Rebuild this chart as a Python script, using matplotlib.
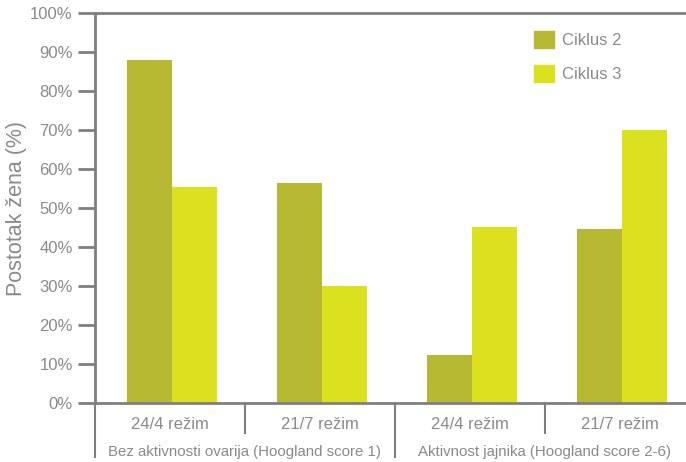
import matplotlib
matplotlib.use('Agg')
import matplotlib.pyplot as plt
import matplotlib.transforms as mtransforms
import matplotlib.patches as mpatches

plt.rcParams['font.family'] = ['Liberation Sans', 'DejaVu Sans']

# podaci
rezimi = ['24/4 režim', '21/7 režim', '24/4 režim', '21/7 režim']
grupe = ['Bez aktivnosti ovarija (Hoogland score 1)', 'Aktivnost jajnika (Hoogland score 2-6)']
ciklus2 = [88, 56.4, 12.3, 44.6]
ciklus3 = [55.4, 30, 45.1, 70]
y_ticks = [0, 10, 20, 30, 40, 50, 60, 70, 80, 90, 100]

siva = '#7f7f7f'
tekst = '#8a8a8a'
boja2 = '#b8b932'
boja3 = '#dce11f'

W, H = 686, 462
fig = plt.figure(figsize=(W / 100, H / 100), dpi=100)
ax = fig.add_axes([95 / W, 59 / H, 600 / W, 390 / H])

x = list(range(len(rezimi)))
w = 0.3
ax.bar([i + 0.015 - w / 2 for i in x], ciklus2, width=w, color=boja2, label='Ciklus 2')
ax.bar([i + 0.015 + w / 2 for i in x], ciklus3, width=w, color=boja3, label='Ciklus 3')

ax.set_xlim(-0.5, len(rezimi) - 0.5)
ax.set_ylim(0, 100)
ax.set_yticks(y_ticks, [f'{t}%' for t in y_ticks])
ax.set_xticks(x, rezimi)
ax.tick_params(axis='y', length=12, width=2, color=siva, labelcolor=tekst, labelsize=12, pad=4)
ax.tick_params(axis='x', length=0, labelcolor=tekst, labelsize=12, pad=10)

ax.spines['right'].set_visible(False)
for s in ['left', 'top', 'bottom']:
    ax.spines[s].set_color(siva)
    ax.spines[s].set_linewidth(2)

ax.set_ylabel('Postotak žena (%)', color=tekst, fontsize=15.5, labelpad=2)

# razdjelnici ispod osi
trans = mtransforms.blended_transform_factory(ax.transData, ax.transAxes)
for i in range(len(rezimi) + 1):
    xp = i - 0.5
    dug = (i % 2 == 0)
    dno = -54 / 390 if dug else -30 / 390
    ax.plot([xp, xp], [0, dno], color=siva, lw=1.5, transform=trans, clip_on=False)

for g, naziv in enumerate(grupe):
    ax.text(2 * g + 0.5, -49 / 390, naziv, transform=trans, ha='center', va='center',
            color=tekst, fontsize=10.8)

# legenda
ax.legend(handles=[mpatches.Patch(color=boja2, label='Ciklus 2'),
                   mpatches.Patch(color=boja3, label='Ciklus 3')],
          loc='upper left', bbox_to_anchor=((534 - 95) / 600, 1 - 18 / 390),
          frameon=False, fontsize=12, labelcolor=tekst, handlelength=1.2, handleheight=1.2,
          labelspacing=1.0, handletextpad=0.45, borderaxespad=0, borderpad=0)

fig.savefig('out.png', dpi=100)
